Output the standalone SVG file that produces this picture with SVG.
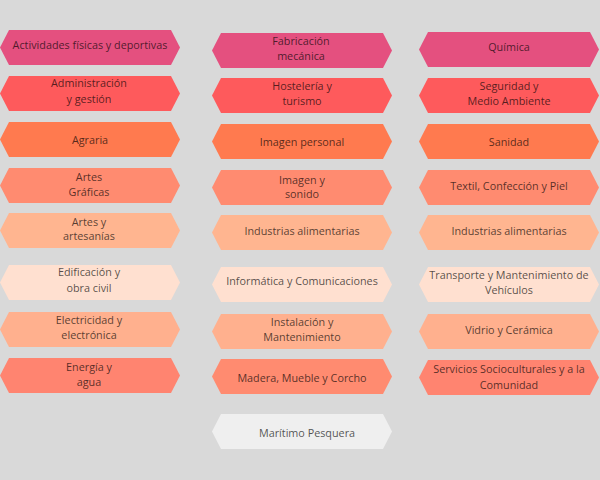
<svg xmlns="http://www.w3.org/2000/svg" width="600" height="480" viewBox="0 0 600 480">
<style>
.t{font-family:"Open Sans","Noto Sans","Liberation Sans",sans-serif;font-size:10.8px;fill:#000;fill-opacity:0.68;text-anchor:middle}
.c1{fill:#E4507F}.c2{fill:#FE5A5C}.c3{fill:#FF7A4F}.c4{fill:#FF8B70}.c5{fill:#FFB590}.c6{fill:#FFE0D0}.c7{fill:#FFB08E}.c8{fill:#FF8470}.c9{fill:#EFEFEF}
</style>
<rect width="600" height="480" fill="#D9D9D9"/>
<defs>
<polygon id="h1" points="0,17.5 9,0 171,0 180,17.5 171,35 9,35"/>
</defs>
<g id="n1"><use href="#h1" class="c1" x="0" y="30"/><text class="t" x="90" y="49">Actividades físicas y deportivas</text></g>
<g id="n2"><use href="#h1" class="c1" x="212" y="33"/><text class="t" x="301" y="45">Fabricación</text><text class="t" x="301" y="60">mecánica</text></g>
<g id="n3"><use href="#h1" class="c1" x="419" y="32"/><text class="t" x="509" y="51">Química</text></g>
<g id="n4"><use href="#h1" class="c2" x="0" y="76"/><text class="t" x="89" y="87">Administración</text><text class="t" x="89" y="103">y gestión</text></g>
<g id="n5"><use href="#h1" class="c2" x="212" y="78"/><text class="t" x="302" y="90">Hostelería y</text><text class="t" x="302" y="105">turismo</text></g>
<g id="n6"><use href="#h1" class="c2" x="419" y="78"/><text class="t" x="509" y="90">Seguridad y</text><text class="t" x="509" y="105">Medio Ambiente</text></g>
<g id="n7"><use href="#h1" class="c3" x="0" y="122"/><text class="t" x="90" y="144">Agraria</text></g>
<g id="n8"><use href="#h1" class="c3" x="212" y="124"/><text class="t" x="302" y="146">Imagen personal</text></g>
<g id="n9"><use href="#h1" class="c3" x="419" y="124"/><text class="t" x="509" y="146">Sanidad</text></g>
<g id="n10"><use href="#h1" class="c4" x="0" y="168"/><text class="t" x="89" y="181">Artes</text><text class="t" x="89" y="196">Gráficas</text></g>
<g id="n11"><use href="#h1" class="c4" x="212" y="170"/><text class="t" x="302" y="184">Imagen y</text><text class="t" x="302" y="198">sonido</text></g>
<g id="n12"><use href="#h1" class="c4" x="419" y="170"/><text class="t" x="509" y="190">Textil, Confección y Piel</text></g>
<g id="n13"><use href="#h1" class="c5" x="0" y="213"/><text class="t" x="89" y="226">Artes y</text><text class="t" x="89" y="240">artesanías</text></g>
<g id="n14"><use href="#h1" class="c5" x="212" y="215"/><text class="t" x="302" y="235">Industrias alimentarias</text></g>
<g id="n15"><use href="#h1" class="c5" x="419" y="215"/><text class="t" x="509" y="235">Industrias alimentarias</text></g>
<g id="n16"><use href="#h1" class="c6" x="0" y="265"/><text class="t" x="89" y="276">Edificación y</text><text class="t" x="89" y="292">obra civil</text></g>
<g id="n17"><use href="#h1" class="c6" x="212" y="267"/><text class="t" x="302" y="285">Informática y Comunicaciones</text></g>
<g id="n18"><use href="#h1" class="c6" x="419" y="267"/><text class="t" x="509" y="278.5">Transporte y Mantenimiento de</text><text class="t" x="509" y="293.5">Vehículos</text></g>
<g id="n19"><use href="#h1" class="c7" x="0" y="312"/><text class="t" x="89" y="324">Electricidad y</text><text class="t" x="89" y="339">electrónica</text></g>
<g id="n20"><use href="#h1" class="c7" x="212" y="314"/><text class="t" x="302" y="326">Instalación y</text><text class="t" x="302" y="341">Mantenimiento</text></g>
<g id="n21"><use href="#h1" class="c7" x="419" y="314"/><text class="t" x="509" y="333.5">Vidrio y Cerámica</text></g>
<g id="n22"><use href="#h1" class="c8" x="0" y="358"/><text class="t" x="89" y="371">Energía y</text><text class="t" x="89" y="386">agua</text></g>
<g id="n23"><use href="#h1" class="c4" x="212" y="359"/><text class="t" x="302" y="381.5">Madera, Mueble y Corcho</text></g>
<g id="n24"><use href="#h1" class="c8" x="419" y="360"/><text class="t" x="509" y="372.5">Servicios Socioculturales y a la</text><text class="t" x="509" y="388.5">Comunidad</text></g>
<g id="n25"><use href="#h1" class="c9" x="212" y="414"/><text class="t" x="307" y="436.5">Marítimo Pesquera</text></g>
<g id="connectors"/>
</svg>
